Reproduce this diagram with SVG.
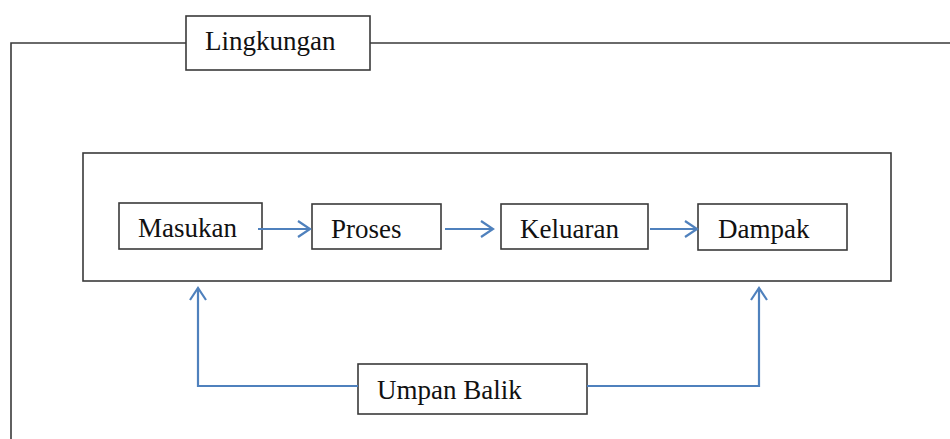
<svg xmlns="http://www.w3.org/2000/svg" width="950" height="439" viewBox="0 0 950 439">
<style>
.box{fill:#fff;stroke:#3a3a3a;stroke-width:1.6}
.frame{fill:none;stroke:#3a3a3a;stroke-width:1.6}
.lbl{font-family:"Liberation Serif","Times New Roman",serif;font-size:27px;fill:#111}
.arr{fill:none;stroke:#4f81bd;stroke-width:2.2}
</style>
<defs>
<marker id="ah" markerUnits="userSpaceOnUse" markerWidth="16" markerHeight="20" refX="14" refY="10" orient="auto">
<path d="M2,2 L14,10 L2,18" fill="none" stroke="#4f81bd" stroke-width="2.2"/>
</marker>
</defs>
<g id="environment">
<path class="frame" d="M11,439 V43 H186 M370,43 H950"/>
<rect class="box" x="186" y="16" width="184" height="54"/>
<text class="lbl" x="205" y="50">Lingkungan</text>
</g>
<g id="system">
<rect class="frame" x="83" y="153" width="808" height="128"/>
</g>
<g id="masukan">
<rect class="box" x="119" y="203" width="143" height="46"/>
<text class="lbl" x="138" y="237">Masukan</text>
</g>
<g id="proses">
<rect class="box" x="312" y="204" width="129" height="45"/>
<text class="lbl" x="331" y="238">Proses</text>
</g>
<g id="keluaran">
<rect class="box" x="501" y="204" width="147" height="45"/>
<text class="lbl" x="520" y="238">Keluaran</text>
</g>
<g id="dampak">
<rect class="box" x="698" y="204" width="149" height="46"/>
<text class="lbl" x="718" y="238">Dampak</text>
</g>
<g id="umpan-balik">
<rect class="box" x="358" y="364" width="229" height="50"/>
<text class="lbl" x="377" y="399">Umpan Balik</text>
</g>
<g id="connectors">
<line class="arr" x1="258" y1="229" x2="310" y2="229" marker-end="url(#ah)"/>
<line class="arr" x1="445" y1="229" x2="493" y2="229" marker-end="url(#ah)"/>
<line class="arr" x1="650" y1="229" x2="697" y2="229" marker-end="url(#ah)"/>
<polyline class="arr" points="358,386 198,386 198,288" marker-end="url(#ah)"/>
<polyline class="arr" points="587,386 759,386 759,288" marker-end="url(#ah)"/>
</g>
</svg>
